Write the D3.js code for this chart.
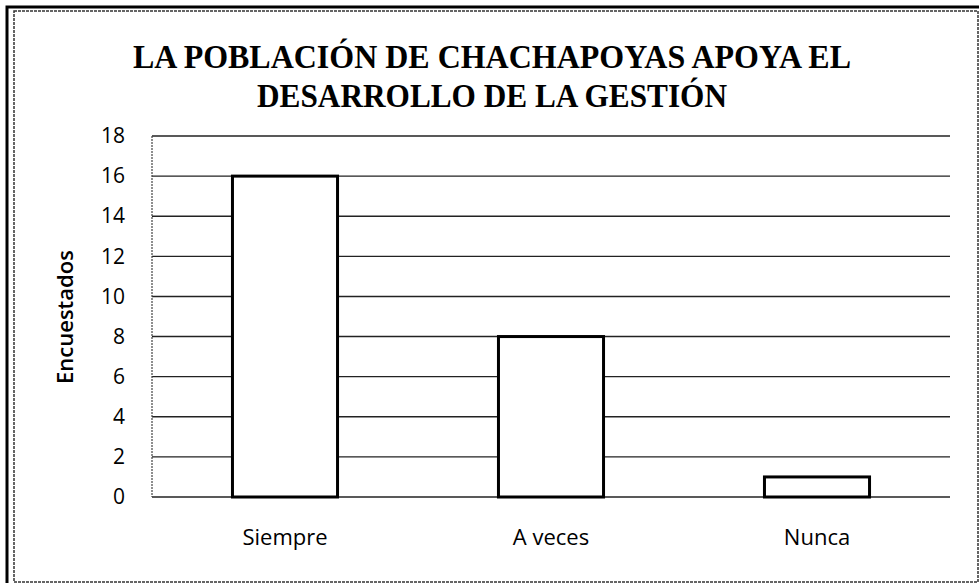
<!DOCTYPE html>
<html>
<head>
<meta charset="utf-8">
<script src="https://cdn.jsdelivr.net/npm/d3@7"></script>
<style>
	body { margin: 0; background: #fff; }
	svg { display: block; }
</style>
</head>
<body>
<svg width="980" height="584"></svg>
<script>
var categories = ["Siempre", "A veces", "Nunca"];
var values = [16, 8, 1];
var yTicks = [0, 2, 4, 6, 8, 10, 12, 14, 16, 18];
var titleLines = ["LA POBLACIÓN DE CHACHAPOYAS APOYA EL", "DESARROLLO DE LA GESTIÓN"];
var yTitle = "Encuestados";

var svg = d3.select("svg");
var plotLeft = 152, plotRight = 950, plotTop = 136, plotBottom = 497;

// frame of the scanned chart
svg.append("rect")
	.attr("x", 14).attr("y", 11)
	.attr("width", 964).attr("height", 571)
	.attr("fill", "none")
	.attr("stroke", "#333")
	.attr("stroke-width", 1.5)
	.attr("stroke-dasharray", "3,1");
svg.append("path")
	.attr("d", "M7,583L7,7L979,7")
	.attr("fill", "none")
	.attr("stroke", "#000")
	.attr("stroke-width", 3);

// title
svg.append("g")
	.selectAll("text")
	.data(titleLines)
	.join("text")
	.attr("x", 492)
	.attr("y", function(d, i) { return 68 + i * 39; })
	.attr("text-anchor", "middle")
	.attr("font-family", "'Liberation Serif', 'Times New Roman', serif")
	.attr("font-weight", "bold")
	.attr("font-size", 34)
	.attr("textLength", function(d, i) { return i == 0 ? 718 : 470; })
	.attr("lengthAdjust", "spacingAndGlyphs")
	.text(function(d) { return d; });

var x = d3.scaleBand()
	.domain(categories)
	.range([plotLeft, plotRight])
	.paddingInner(0.605)
	.paddingOuter(0.3025);

var y = d3.scaleLinear()
	.domain([0, 18])
	.range([plotBottom, plotTop]);

// gridlines
svg.append("g")
	.selectAll("line")
	.data(yTicks)
	.join("line")
	.attr("x1", plotLeft)
	.attr("x2", plotRight)
	.attr("y1", function(d) { return y(d); })
	.attr("y2", function(d) { return y(d); })
	.attr("stroke", "#222")
	.attr("stroke-width", 1.4);

svg.append("line")
	.attr("x1", plotLeft).attr("x2", plotLeft)
	.attr("y1", plotTop).attr("y2", plotBottom)
	.attr("stroke", "#444")
	.attr("stroke-width", 1.2)
	.attr("stroke-dasharray", "2,1");

// y axis labels
var yAxis = d3.axisLeft(y)
	.tickValues(yTicks)
	.tickSize(0)
	.tickPadding(0);
var gy = svg.append("g")
	.attr("transform", "translate(125,0)")
	.call(yAxis);
gy.select(".domain").remove();
gy.selectAll("text")
	.attr("font-family", "'Open Sans', sans-serif")
	.attr("font-size", 21)
	.attr("fill", "#000");

// x axis labels
var xAxis = d3.axisBottom(x)
	.tickSize(0)
	.tickPadding(0);
var gx = svg.append("g")
	.attr("transform", "translate(0,529)")
	.call(xAxis);
gx.select(".domain").remove();
gx.selectAll("text")
	.attr("font-family", "'Open Sans', sans-serif")
	.attr("font-size", 22)
	.attr("fill", "#000");

// bars
svg.append("g")
	.selectAll("rect")
	.data(values)
	.join("rect")
	.attr("x", function(d, i) { return x(categories[i]); })
	.attr("y", function(d) { return y(d); })
	.attr("width", x.bandwidth())
	.attr("height", function(d) { return y(0) - y(d); })
	.attr("fill", "#fff")
	.attr("stroke", "#000")
	.attr("stroke-width", 3);

// axis title
svg.append("text")
	.attr("transform", "translate(73,317) rotate(-90)")
	.attr("text-anchor", "middle")
	.attr("font-family", "'Open Sans', sans-serif")
	.attr("font-weight", 600)
	.attr("font-size", 22)
	.text(yTitle);
</script>
</body>
</html>
